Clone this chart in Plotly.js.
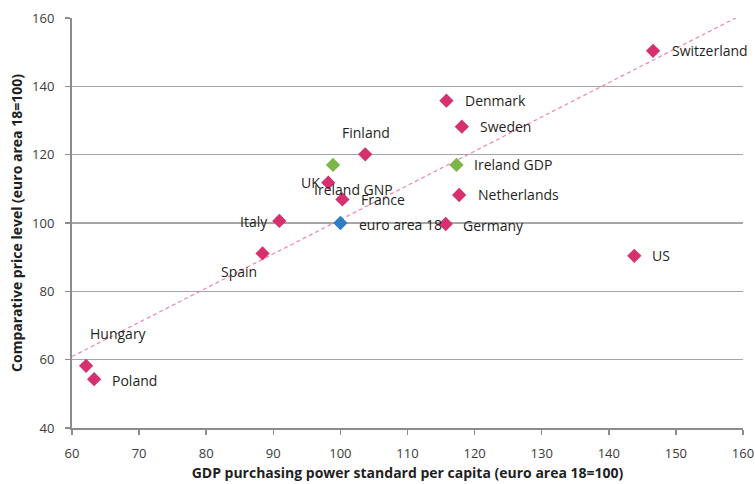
<!DOCTYPE html>
<html>
<head>
<meta charset="utf-8">
<script src="https://cdn.plot.ly/plotly-3.0.1.min.js"></script>
<style>html,body{margin:0;padding:0;background:#fff;}#chart{width:755px;height:484px;}</style>
</head>
<body>
<div id="chart"></div>
<script>
// ---- data ----
const names = ["Switzerland","Denmark","Sweden","Finland","Ireland GDP","Ireland GNP","UK","France","Netherlands","Italy","euro area 18","Germany","Spain","US","Hungary","Poland"];
const gdpPps = [146.6,115.8,118.1,103.7,117.3,98.9,98.2,100.3,117.7,90.9,100,115.7,88.4,143.8,62.1,63.3];
const priceLevel = [150.4,135.8,128.2,120.1,117,117,111.8,106.9,108.2,100.6,100,99.7,91.1,90.4,58.2,54.3];
const group = ["country","country","country","country","ireland","ireland","country","country","country","country","euro","country","country","country","country","country"];
const trendX = [60,160];
const trendY = [60.9,161.1];
const xTicks = [60,70,80,90,100,110,120,130,140,150,160];
const yTicks = [40,60,80,100,120,140,160];

// label placement (pixel offsets)
const labelDx = [17,17,16,1,16,-21,-6,17,17,-9,17,15,-24,16,2,16];
const labelDy = [0,0,0,22,0,-25,0,0,0,-1,-1,-1,-18,0,32,-1];
const labelAnchor = ["left","left","left","center","left","left","right","left","left","right","left","left","center","left","left","left"];

const colors = {country:"#D6306F", ireland:"#7DB646", euro:"#2F7EC4"};

function pick(arr, g){ return arr.filter((_,i)=>group[i]===g); }

const traces = [{
  x: trendX, y: trendY, mode: "lines", type: "scatter",
  line: {color:"#EE85AC", width:1.2, dash:"4px,3px"}, hoverinfo:"skip", showlegend:false
}];
["country","ireland","euro"].forEach(g=>{
  traces.push({
    x: pick(gdpPps,g), y: pick(priceLevel,g), text: pick(names,g),
    mode:"markers", type:"scatter", showlegend:false, cliponaxis:false,
    marker:{symbol:"diamond", size:11, color:colors[g], line:{width:0}}
  });
});

const annotations = names.map((n,i)=>({
  x: gdpPps[i], y: priceLevel[i], xref:"x", yref:"y", text:n, showarrow:false,
  xanchor: labelAnchor[i], yanchor:"middle", xshift: labelDx[i], yshift: labelDy[i],
  font:{family:"Open Sans, sans-serif", size:14, color:"#1f1f1f"}
}));

const axisFont = {family:"Open Sans, sans-serif", size:13, color:"#3a3a3a"};
const titleFont = {family:"Open Sans, sans-serif", size:14, color:"#1f1f1f", weight:"bold"};
const layout = {
  width:755, height:484,
  margin:{l:72, r:12, t:18, b:56},
  paper_bgcolor:"#fff", plot_bgcolor:"#fff",
  showlegend:false,
  xaxis:{
    range:[60,160], tickvals:xTicks, ticktext:xTicks.map(String),
    showgrid:false, zeroline:false,
    showline:true, linecolor:"#8c8c8c", linewidth:2,
    ticks:"outside", ticklen:5, tickwidth:1.5, tickcolor:"#8c8c8c",
    tickfont:axisFont, ticklabelstandoff:7,
    title:{text:"GDP purchasing power standard per capita (euro area 18=100)", font:titleFont, standoff:8}
  },
  yaxis:{
    range:[40,160], tickvals:yTicks, ticktext:yTicks.map(String),
    showgrid:true, gridcolor:"#a6a6a6", gridwidth:1.5, zeroline:false,
    showline:true, linecolor:"#8c8c8c", linewidth:2,
    ticks:"outside", ticklen:5, tickwidth:1.5, tickcolor:"#8c8c8c",
    tickfont:axisFont, ticklabelstandoff:8,
    title:{text:"Comparative price level (euro area 18=100)", font:titleFont, standoff:6}
  },
  annotations: annotations
};

Plotly.newPlot("chart", traces, layout, {displayModeBar:false, staticPlot:true});
</script>
</body>
</html>
